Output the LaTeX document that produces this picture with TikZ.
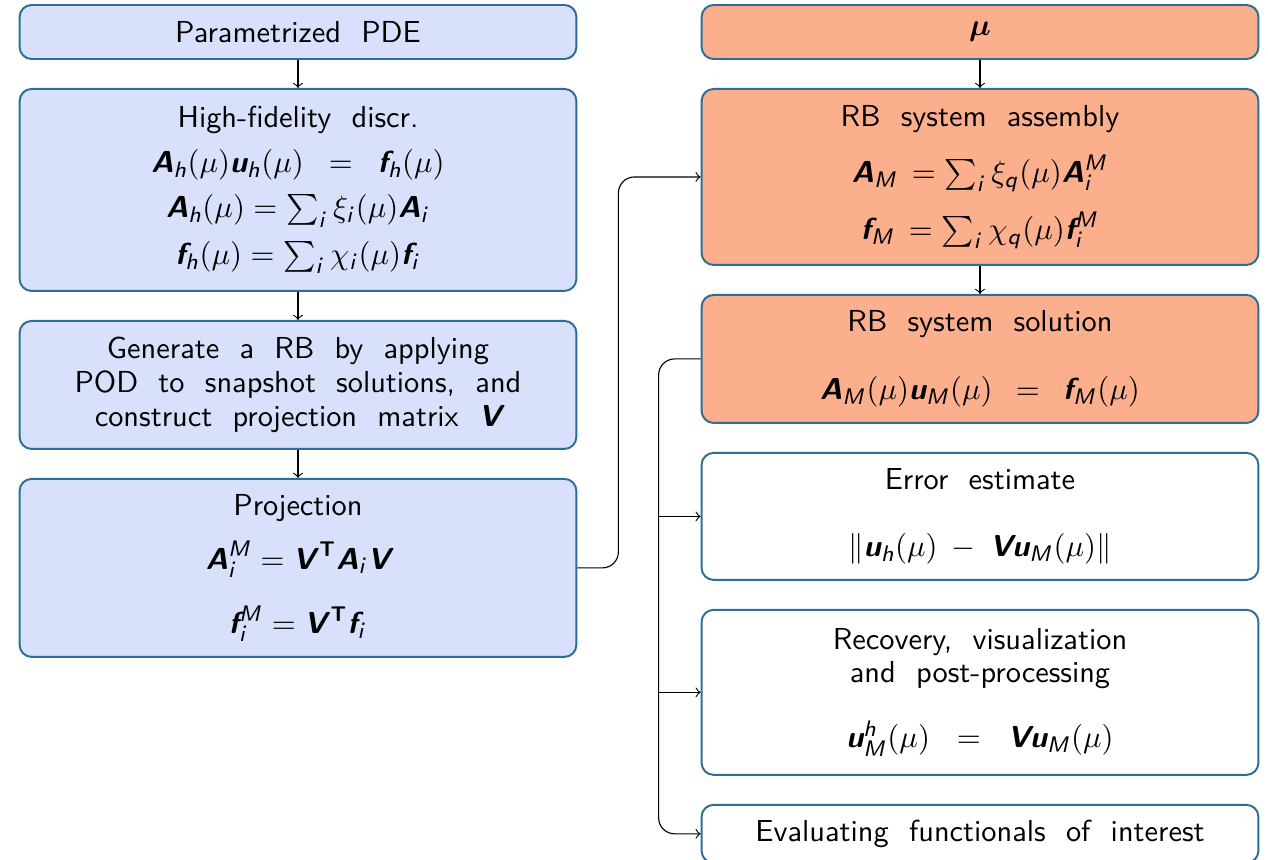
\documentclass[tikz,border=0pt]{standalone}
\usepackage{amsmath}
\usepackage{tikz}
\usetikzlibrary{arrows,positioning}
\definecolor{boxborder}{RGB}{45,110,150}
\definecolor{boxblue}{RGB}{217,224,252}
\definecolor{boxorange}{RGB}{252,175,140}
\DeclareMathAlphabet{\mathsfsl}{OT1}{cmss}{m}{sl}
\newcommand{\bv}[1]{\text{\bfseries\slshape #1}}
\newcommand{\sv}[1]{\mathsfsl{#1}}
\tikzset{
    stage/.style={
           rectangle,
           rounded corners=0.15cm,
           draw=boxborder, line width=0.7pt,
           minimum width=6.96cm,
           text width=6.6cm,
           align=center,
           inner sep=2pt,
           font=\sffamily\fontsize{10.8pt}{12pt}\selectfont,
           },
    offline/.style={stage, fill=boxblue},
    online/.style={stage, fill=boxorange},
    output/.style={stage, fill=white},
}

\begin{document}
\begin{tikzpicture}[->,>=to,node distance=0.35cm]
 \useasboundingbox (0,0) rectangle (15.85,-10.7375);

 % Offline stage (left column)
 \node[offline, minimum height=0.675cm, anchor=north] (PDE) at (3.725,-0.05)
  {Parametrized\ \ PDE};

 \node[offline, minimum height=2.525cm, below=of PDE] (HiFi)
  {High-fidelity\ \ discr.\\[4pt]
   $\bv{A}_{\sv{h}}(\mu)\bv{u}_{\sv{h}}(\mu) = \bv{f}_{\sv{h}}(\mu)$\\[4pt]
   \mbox{$\bv{A}_{\sv{h}}(\mu) = \sum_{\sv{i}} \xi_{\sv{i}}(\mu)\bv{A}_{\sv{i}}$}\\[4.5pt]
   \mbox{$\bv{f}_{\sv{h}}(\mu) = \sum_{\sv{i}} \chi_{\sv{i}}(\mu)\bv{f}_{\sv{i}}$}};

 \node[offline, minimum height=1.6cm, below=of HiFi] (RB Gen)
  {Generate\ \ a\ \ RB\ \ by\ \ applying\\
   POD\ \ to\ \ snapshot\ \ solutions,\ \ and\\
   construct\ \ projection\ \ matrix\ \ $\bv{V}$};

 \node[offline, minimum height=2.225cm, below=of RB Gen] (Projection)
  {Projection\\[6pt]
   \mbox{$\bv{A}_{\sv{i}}^{\sv{M}} = \bv{V}^{\,\text{\bfseries T}}\bv{A}_{\sv{i}}\bv{V}$}\\[9pt]
   \mbox{$\bv{f}_{\sv{i}}^{\sv{M}} = \bv{V}^{\,\text{\bfseries T}}\bv{f}_{\sv{i}}$}};

 % Online stage (right column)
 \node[online, minimum height=0.675cm, anchor=north] (Mu) at (12.25,-0.05)
  {$\boldsymbol{\mu}$};

 \node[online, minimum height=2.2cm, below=of Mu] (Assembly)
  {RB\ \ system\ \ assembly\\[7pt]
   \mbox{$\bv{A}_{\sv{M}}\, = \sum_{\sv{i}} \xi_{\sv{q}}(\mu)\bv{A}_{\sv{i}}^{\sv{M}}$}\\[6pt]
   \mbox{$\bv{f}_{\sv{M}}\, = \sum_{\sv{i}} \chi_{\sv{q}}(\mu)\bv{f}_{\sv{i}}^{\sv{M}}$}};

 \node[online, minimum height=1.6cm, below=of Assembly] (Solution)
  {RB\ \ system\ \ solution\\[12pt]
   $\bv{A}_{\sv{M}}(\mu)\bv{u}_{\sv{M}}(\mu) = \bv{f}_{\sv{M}}(\mu)$};

 \node[output, minimum height=1.5875cm, below=of Solution] (Error)
  {Error\ \ estimate\\[12pt]
   $\|\bv{u}_{\sv{h}}(\mu) - \bv{V}\bv{u}_{\sv{M}}(\mu)\|$};

 \node[output, minimum height=2.0625cm, below=of Error] (Recovery)
  {Recovery,\ \ visualization\\
   and\ \ post-processing\\[11pt]
   $\bv{u}_{\sv{M}}^{\sv{h}}(\mu) = \bv{V}\bv{u}_{\sv{M}}(\mu)$};

 \node[output, minimum height=0.725cm, below=of Recovery] (Functionals)
  {Evaluating\ \ functionals\ \ of\ \ interest};

 % draw the paths between the stages
 \path (PDE) edge (HiFi)
 (HiFi) edge (RB Gen)
 (RB Gen) edge (Projection)
 (Mu) edge (Assembly)
 (Assembly) edge (Solution);

 \draw[rounded corners=0.2cm] (Projection.east) -- ++(0.5125,0) |- (Assembly.west);
 \draw[rounded corners=0.2cm] (Solution.west) -- ++(-0.525,0) coordinate (branch) |- (Functionals.west);
 \draw (branch |- Error.west) -- (Error.west);
 \draw (branch |- Recovery.west) -- (Recovery.west);
\end{tikzpicture}
\end{document}
